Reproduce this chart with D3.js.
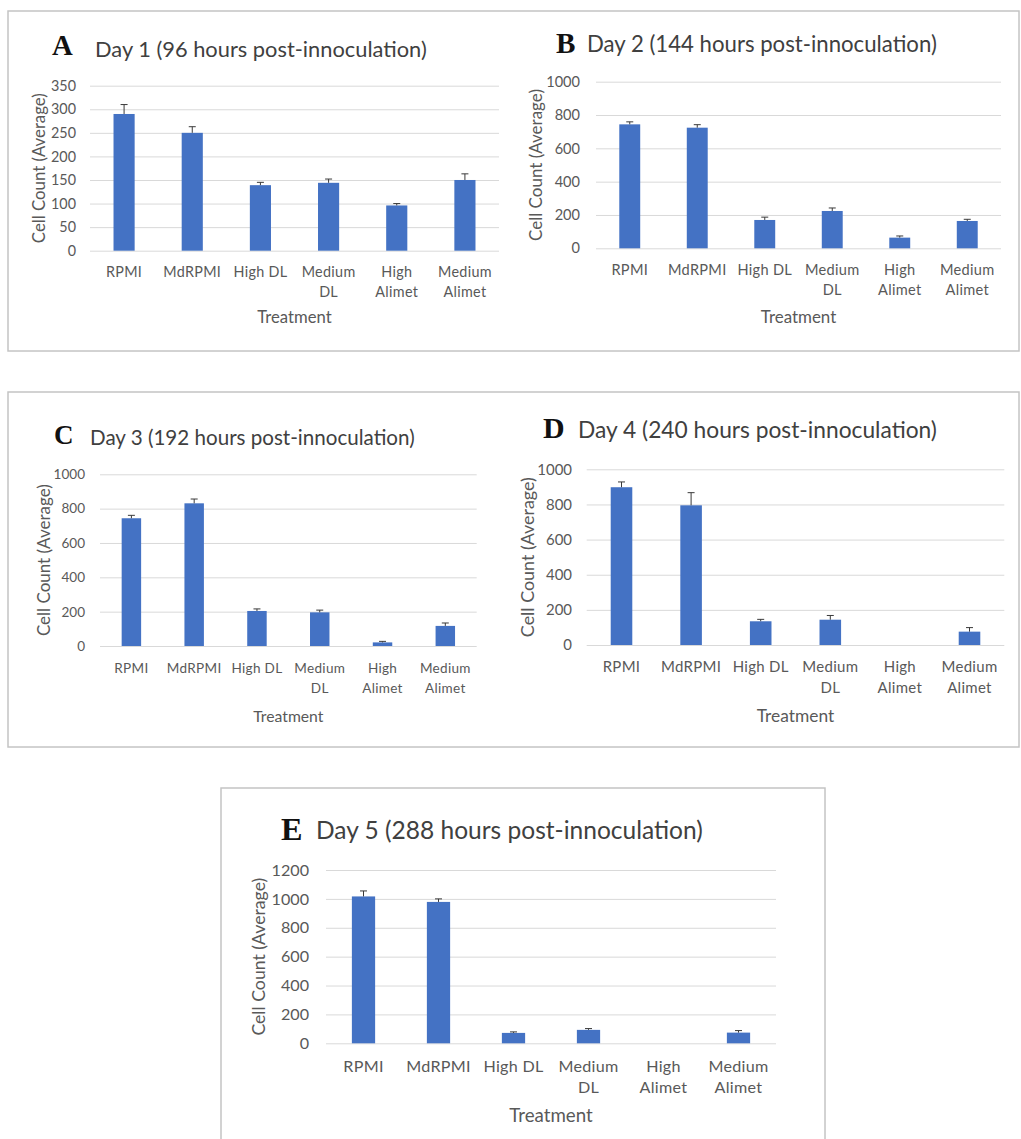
<!DOCTYPE html>
<html>
<head>
<meta charset="utf-8">
<script src="https://cdn.jsdelivr.net/npm/d3@7"></script>
<style>
body { margin: 0; background: #fff; }
text { font-family: Lato, "Open Sans", sans-serif; }
</style>
</head>
<body>
<svg id="main" width="1021" height="1139"></svg>
<script>
// data
var categories = ["RPMI", "MdRPMI", "High DL", "Medium DL", "High Alimet", "Medium Alimet"];
var catLines = [["RPMI"], ["MdRPMI"], ["High DL"], ["Medium", "DL"], ["High", "Alimet"], ["Medium", "Alimet"]];
var day1 = [290, 250, 139, 144, 96, 150];
var err1 = [20, 13, 6, 8, 4, 13];
var day2 = [744, 724, 170, 224, 64, 164];
var err2 = [15, 18, 17, 18, 10, 10];
var day3 = [744, 831, 204, 196, 21, 117];
var err3 = [17, 25, 12, 13, 6, 17];
var day4 = [898, 795, 135, 144, 0, 76];
var err4 = [30, 72, 11, 24, 0, 23];
var day5 = [1017, 979, 72, 93, 0, 74];
var err5 = [38, 21, 7, 9, 0, 14];
var letters = ["A", "B", "C", "D", "E"];
var titles = ["Day 1 (96 hours post-innoculation)", "Day 2 (144 hours post-innoculation)", "Day 3 (192 hours post-innoculation)", "Day 4 (240 hours post-innoculation)", "Day 5 (288 hours post-innoculation)"];
var yMaxes = [350, 1000, 1000, 1000, 1200];
var ySteps = [50, 200, 200, 200, 200];
var values = [day1, day2, day3, day4, day5];
var errors = [err1, err2, err3, err4, err5];

// layout of each panel (pixels)
var layout = [
	{x0: 90, x1: 499, top: 85.7, bot: 250.7, tickX: 76, ylabX: 38, ylabW: 150, letterX: 52, letterY: 55, titleX: 95, titleY: 57, titleW: 332, cat1: 277, cat2: 297, treatY: 323},
	{x0: 596, x1: 1001, top: 81.7, bot: 248.3, tickX: 580, ylabX: 535, ylabW: 152, letterX: 556, letterY: 53, titleX: 587, titleY: 52, titleW: 350, cat1: 275, cat2: 295, treatY: 323},
	{x0: 100, x1: 476.7, top: 474.3, bot: 646, tickX: 85, ylabX: 43, ylabW: 152, letterX: 54, letterY: 444, titleX: 90, titleY: 445, titleW: 325, cat1: 673, cat2: 693, treatY: 722},
	{x0: 586.7, x1: 1004.3, top: 469.3, bot: 645, tickX: 572, ylabX: 527, ylabW: 160, letterX: 543, letterY: 438, titleX: 578, titleY: 438, titleW: 359, cat1: 672, cat2: 693, treatY: 722},
	{x0: 326, x1: 776, top: 870, bot: 1043.3, tickX: 309, ylabX: 258, ylabW: 158, letterX: 281, letterY: 840, titleX: 316, titleY: 839, titleW: 387, cat1: 1072, cat2: 1093, treatY: 1122}
];

var svg = d3.select("#main");
svg.append("rect").attr("width", 1021).attr("height", 1139).attr("fill", "#ffffff");

// frames around the panels
svg.append("rect").attr("x", 8).attr("y", 11).attr("width", 1011).attr("height", 340).attr("fill", "none").attr("stroke", "#c4c4c4").attr("stroke-width", 1.5);
svg.append("rect").attr("x", 8).attr("y", 392).attr("width", 1011).attr("height", 355).attr("fill", "none").attr("stroke", "#c4c4c4").attr("stroke-width", 1.5);
svg.append("rect").attr("x", 221).attr("y", 788).attr("width", 604).attr("height", 400).attr("fill", "none").attr("stroke", "#c4c4c4").attr("stroke-width", 1.5);

for (var p = 0; p < 5; p ++) {
	var L = layout[p];
	var g = svg.append("g");

	// title first, its width gives the font scale of the panel
	var title = g.append("text").attr("x", L.titleX).attr("y", L.titleY).attr("fill", "#404040").style("font-size", "19px").text(titles[p]);
	var s = L.titleW / title.node().getComputedTextLength();
	title.style("font-size", (19 * s) + "px");
	g.append("text").attr("x", L.letterX).attr("y", L.letterY).attr("fill", "#111")
		.style("font-family", "'Liberation Serif', 'DejaVu Serif', serif").style("font-weight", "bold").style("font-size", (25 * s) + "px").text(letters[p]);

	var x = d3.scaleBand().domain(categories).range([L.x0, L.x1]).paddingInner(0.69).paddingOuter(0.345);
	var y = d3.scaleLinear().domain([0, yMaxes[p]]).range([L.bot, L.top]);

	var yAxis = d3.axisLeft(y).tickValues(d3.range(0, yMaxes[p] + 1, ySteps[p])).tickFormat(d3.format("d"))
		.tickSize(-(L.x1 - L.x0)).tickPadding(L.x0 - L.tickX);
	var ya = g.append("g").attr("transform", "translate(" + L.x0 + ",0)").call(yAxis);
	ya.select(".domain").remove();
	ya.selectAll(".tick line").attr("stroke", "#d9d9d9").attr("stroke-width", 1);
	ya.selectAll(".tick text").attr("fill", "#595959").style("font-size", (12.5 * s) + "px").style("font-family", "Lato, sans-serif");

	var xAxis = d3.axisBottom(x).tickSize(0);
	var xa = g.append("g").attr("transform", "translate(0," + L.bot + ")").call(xAxis);
	xa.select(".domain").remove();
	xa.selectAll(".tick text").each(function(d) {
		var t = d3.select(this);
		var lines = catLines[categories.indexOf(d)];
		t.text(null).attr("y", L.cat1 - L.bot).attr("dy", 0).attr("fill", "#595959")
			.style("font-size", (12.5 * s) + "px").style("font-family", "Lato, sans-serif").style("letter-spacing", "0.3px");
		lines.forEach(function(line, i) {
			t.append("tspan").attr("x", 0).attr("dy", i == 0 ? 0 : (L.cat2 - L.cat1)).text(line);
		});
	});

	var bars = g.append("g");
	bars.selectAll("rect").data(values[p]).enter().append("rect")
		.attr("x", function(d, i) { return x(categories[i]); })
		.attr("width", x.bandwidth())
		.attr("y", function(d) { return y(d); })
		.attr("height", function(d) { return L.bot - y(d); })
		.attr("fill", "#4472c4");

	var errs = errors[p];
	var eb = g.append("g").attr("stroke", "#3a3a3a").attr("stroke-width", 1);
	values[p].forEach(function(v, i) {
		if (errs[i] == 0) return;
		var cx = x(categories[i]) + x.bandwidth() / 2;
		eb.append("line").attr("x1", cx).attr("x2", cx).attr("y1", y(v)).attr("y2", y(v + errs[i]));
		eb.append("line").attr("x1", cx - 3.5).attr("x2", cx + 3.5).attr("y1", y(v + errs[i])).attr("y2", y(v + errs[i]));
	});

	g.append("text").attr("x", (L.x0 + L.x1) / 2).attr("y", L.treatY).attr("text-anchor", "middle").attr("fill", "#595959")
		.style("font-size", (14.5 * s) + "px").text("Treatment");
	var ylab = g.append("text").attr("transform", "translate(" + L.ylabX + "," + ((L.top + L.bot) / 2) + ") rotate(-90)")
		.attr("text-anchor", "middle").attr("dominant-baseline", "central").attr("fill", "#595959")
		.style("font-size", "14px").text("Cell Count (Average)");
	ylab.style("font-size", (14 * L.ylabW / ylab.node().getComputedTextLength()) + "px");
}
</script>
</body>
</html>
